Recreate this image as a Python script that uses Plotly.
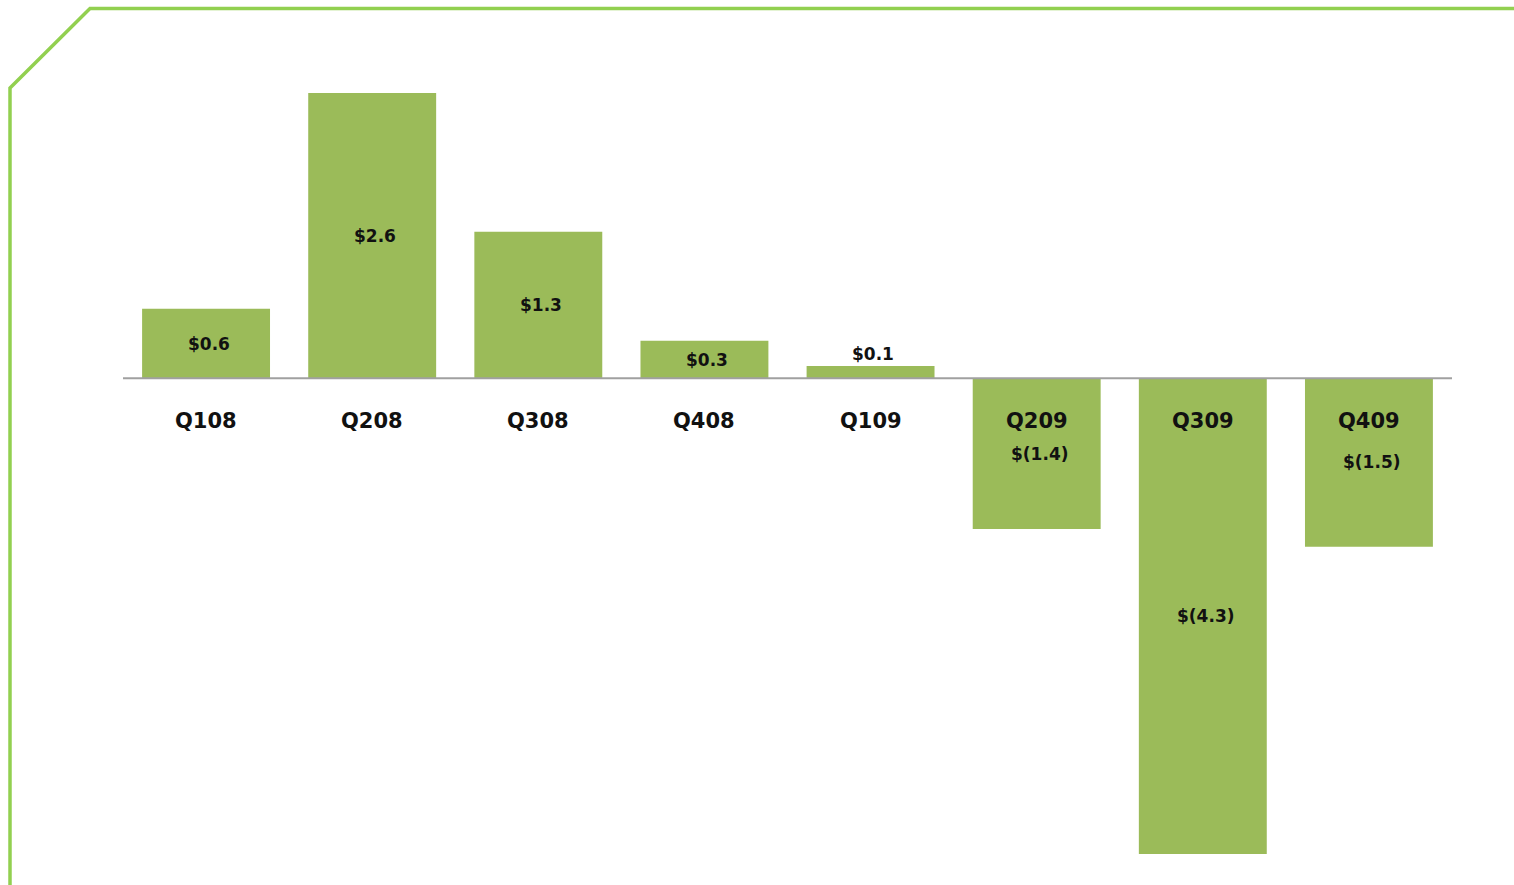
import plotly.graph_objects as go

quarters = ["Q108", "Q208", "Q308", "Q408", "Q109", "Q209", "Q309", "Q409"]
values = [0.63, 2.59, 1.33, 0.34, 0.11, -1.37, -4.32, -1.53]
value_labels = ["$0.6", "$2.6", "$1.3", "$0.3", "$0.1", "$(1.4)", "$(4.3)", "$(1.5)"]

BAR = "#9BBB59"
FRAME = "#92D050"
FONT = "DejaVu Sans"

W, H = 1514, 885
ML, MR, MT, MB = 123, 62, 93, 31
PW, PH = W - ML - MR, H - MT - MB


def px(x):
    return (x - ML) / PW


def py(y):
    return 1 - (y - MT) / PH


fig = go.Figure(go.Bar(
    x=quarters, y=values, marker=dict(color=BAR, line=dict(width=0)),
    hoverinfo="skip",
))

ann = []
for q, v, lab in zip(quarters, values, value_labels):
    ann.append(dict(x=q, y=0, text=f"<b>{q}</b>", showarrow=False,
                    yanchor="middle", yshift=-43,
                    font=dict(family=FONT, size=21, color="#111111")))
    if abs(v) < 0.2:
        ann.append(dict(x=q, y=v, text=f"<b>{lab}</b>", showarrow=False,
                        yanchor="bottom", yshift=0, xshift=2,
                        font=dict(family=FONT, size=17, color="#111111")))
    else:
        ann.append(dict(x=q, y=v / 2, text=f"<b>{lab}</b>", showarrow=False,
                        yanchor="middle", xshift=3,
                        font=dict(family=FONT, size=17, color="#111111")))

frame_path = (f"M {px(10)},{py(890)} L {px(10)},{py(88)} "
              f"L {px(90)},{py(8.5)} L {px(1520)},{py(8.5)}")

fig.update_layout(
    width=W, height=H,
    margin=dict(l=ML, r=MR, t=MT, b=MB),
    paper_bgcolor="white", plot_bgcolor="white",
    showlegend=False, bargap=0.23,
    xaxis=dict(showticklabels=False, showgrid=False, zeroline=False,
               showline=False, ticks=""),
    yaxis=dict(range=[-4.32, 2.59], showticklabels=False, showgrid=False,
               zeroline=False, showline=False, ticks=""),
    annotations=ann,
    shapes=[
        dict(type="line", xref="paper", yref="y", x0=0, x1=1, y0=0, y1=0,
             line=dict(color="#A0A0A0", width=2), layer="above"),
        dict(type="path", xref="paper", yref="paper", path=frame_path,
             line=dict(color=FRAME, width=3.5), layer="above"),
    ],
)

fig.write_html("out.html")
